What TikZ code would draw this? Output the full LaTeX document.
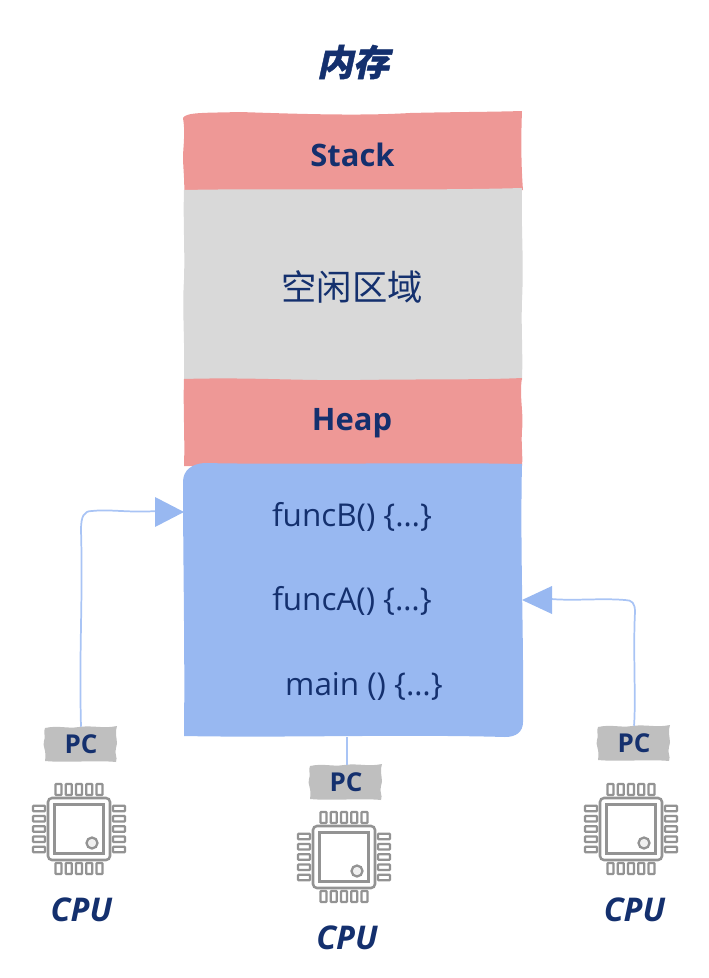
\documentclass[tikz,border=0pt]{standalone}
\usepackage{fontspec}
\setmainfont{Open Sans}
\newfontfamily\cjk{Noto Sans CJK SC}
\newfontfamily\cjktitle[FakeSlant=0.22,FakeBold=1.2]{Noto Sans CJK SC}
\definecolor{ink}{HTML}{14306E}
\definecolor{rosefill}{HTML}{EE9896}
\definecolor{freefill}{HTML}{D9D9D9}
\definecolor{codefill}{HTML}{98B8F1}
\definecolor{pcfill}{HTML}{BFBFBF}
\definecolor{chipline}{HTML}{939393}
\definecolor{wire}{HTML}{A9C4F5}
\tikzset{
  x=0.75pt,y=-0.75pt,
  label text/.style={text=ink,inner sep=0pt,font=\fontsize{23.6}{27}\selectfont},
  stack text/.style={text=ink,inner sep=0pt,font=\bfseries\fontsize{23.2}{27}\selectfont},
  pc text/.style={text=ink,inner sep=0pt,font=\bfseries\fontsize{19.5}{24}\selectfont},
  cpu text/.style={text=ink,inner sep=0pt,font=\bfseries\itshape\fontsize{24.5}{28}\selectfont},
  hook/.style={inner sep=0pt,minimum size=0pt},
  wirepath/.style={draw=wire,line width=1.3pt,line join=round},
  pin/.style={draw=chipline,line width=1.7pt,fill=white,rounded corners=0.6pt},
}
% One packaged chip with five pins on each side, centred on #1,#2
\newcommand{\chipicon}[2]{%
  \begin{scope}[shift={(#1,#2)}]
    \draw[chipline,line width=1.9pt,rounded corners=3pt] (-31,-31) rectangle (31,31);
    \draw[chipline,line width=1.9pt] (-24.5,-24.5) rectangle (24.5,24.5);
    \draw[chipline,line width=1.7pt,fill=white!94!black] (13,14) circle[radius=5.5];
    \foreach \k in {-20.5,-10.25,0,10.25,20.5}{
      \draw[pin] (\k-3,-45) rectangle (\k+3,-34);
      \draw[pin] (\k-3,34) rectangle (\k+3,45);
      \draw[pin] (-46,\k-2.8) rectangle (-34,\k+2.8);
      \draw[pin] (34,\k-2.8) rectangle (46,\k+2.8);
    }
  \end{scope}}
% Label tag with slightly uneven edges, centred on #1,#2
\newcommand{\pctag}[3]{%
  \fill[pcfill] (#1-36,#2-16) .. controls (#1-22,#2-19) and (#1-14,#2-15) .. (#1-2,#2-17)
    .. controls (#1+12,#2-19) and (#1+22,#2-15) .. (#1+36,#2-18)
    .. controls (#1+33,#2-8) and (#1+38,#2-2) .. (#1+35,#2+4)
    .. controls (#1+33,#2+10) and (#1+37,#2+13) .. (#1+35,#2+18)
    .. controls (#1+15,#2+16) and (#1-15,#2+19) .. (#1-36,#2+17)
    .. controls (#1-34,#2+6) and (#1-39,#2+2) .. (#1-37,#2-3)
    .. controls (#1-35,#2-7) and (#1-38,#2-12) .. cycle;
  \node[pc text] (#3) at (#1,#2) {PC};}
\begin{document}
\begin{tikzpicture}
\useasboundingbox (0,0) rectangle (709,978);

% Memory column
\fill[rosefill] (183,118) .. controls (186,112) and (205,113) .. (240,112)
  .. controls (300,114) and (360,116) .. (410,113)
  .. controls (450,112) and (490,112) .. (522,111)
  .. controls (521,135) and (521,165) .. (523,190)
  -- (184,197)
  .. controls (185,180) and (183,170) .. (183,155)
  .. controls (184,140) and (185,130) .. cycle;
\fill[freefill] (184,190) .. controls (280,188) and (420,191) .. (522,188)
  .. controls (521,230) and (524,260) .. (522,300)
  .. controls (521,330) and (523,350) .. (522,380)
  -- (184,380)
  .. controls (185,340) and (182,310) .. (184,280)
  .. controls (185,250) and (183,220) .. cycle;
\fill[rosefill] (184,379) .. controls (250,377) and (300,381) .. (360,380)
  .. controls (420,379) and (480,380) .. (522,378)
  .. controls (519,395) and (524,415) .. (522,430)
  .. controls (521,445) and (523,455) .. (522,466)
  -- (184,466)
  .. controls (185,440) and (183,405) .. cycle;
\fill[codefill] (183,482) .. controls (183,470) and (192,464) .. (204,463)
  .. controls (300,465) and (430,462) .. (522,464)
  .. controls (520,550) and (524,640) .. (523,722)
  .. controls (523,732) and (516,737) .. (505,737)
  .. controls (400,734) and (280,738) .. (184,736)
  .. controls (185,650) and (183,560) .. cycle;

% Shape anchors for the connectors
\node[hook] (codeleft) at (184,512) {};
\node[hook] (coderight) at (522,600) {};
\node[hook] (codebottom) at (347,737) {};

% Texts in the column
\node[text=ink,inner sep=0pt,font=\cjktitle\bfseries\fontsize{27}{30}\selectfont] (title) at (353,62) {内存};
\node[stack text] (stack) at (352.5,155) {Stack};
\node[text=ink,inner sep=0pt,font=\cjk\fontsize{26.5}{30}\selectfont] (free) at (352,287) {空闲区域};
\node[stack text] (heap) at (352,423) {Heap};
\node[label text] (funcb) at (352,517) {funcB() \{…\}};
\node[label text] (funca) at (352,601) {funcA() \{…\}};
\node[label text] (mainf) at (364,686) {main () \{…\}};

% Program counters and processors
\pctag{81}{744}{pcleft}
\pctag{346}{782}{pcmid}
\pctag{634}{743}{pcright}
\chipicon{79}{829}
\chipicon{344}{857}
\chipicon{631}{829}
\node[cpu text] (cpuleft) at (81.5,910) {CPU};
\node[cpu text] (cpumid) at (347,938) {CPU};
\node[cpu text] (cpuright) at (634.5,910) {CPU};

% Connectors from the counters to the code area
\node[hook] (pcleftup) at (81,727) {};
\node[hook] (pcrightup) at (634,726) {};
\node[hook] (pcmidup) at (347,765) {};
\draw[wirepath] (pcleftup) .. controls (79,650) and (83,600) .. (81,530)
  .. controls (81,516) and (84,511) .. (92,511)
  .. controls (110,509) and (130,513) .. (157,511);
\fill[codefill] (codeleft.center) -- (155,497) -- (155,527) -- cycle;
\draw[wirepath] (pcrightup) .. controls (636,700) and (633,650) .. (635,612)
  .. controls (635,603) and (632,600) .. (625,600)
  .. controls (600,598) and (575,601) .. (551,599);
\fill[codefill] (coderight.center) -- (552,586) -- (552,614) -- cycle;
\draw[wirepath] (codebottom) -- (pcmidup);
\end{tikzpicture}
\end{document}
